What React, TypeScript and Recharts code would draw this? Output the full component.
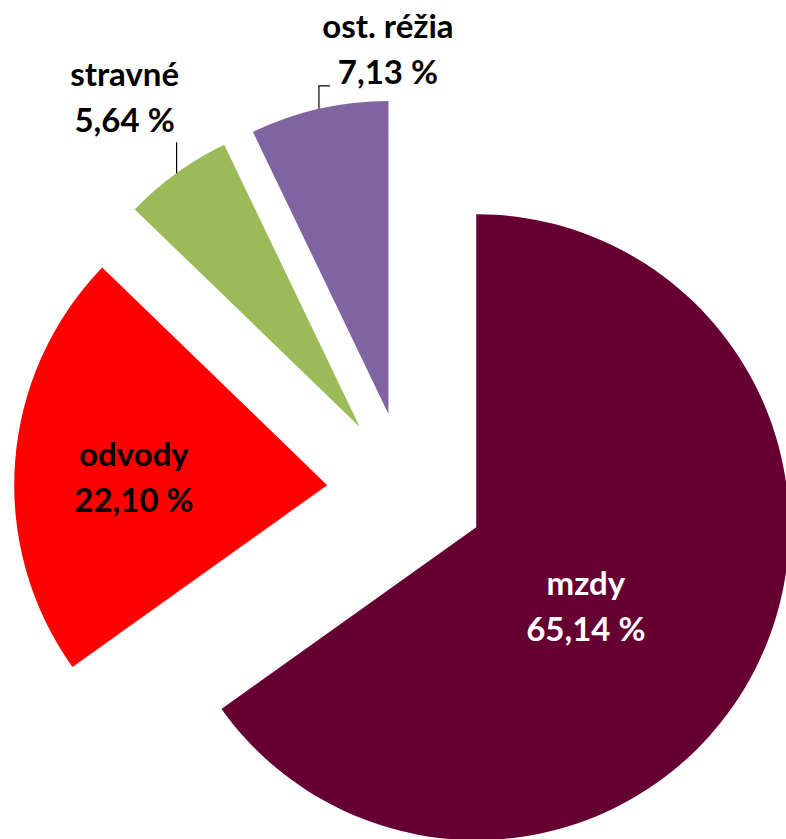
import { Cell, Pie, PieChart, Sector } from "recharts";

// cost structure shares
const categories = ["mzdy", "odvody", "stravné", "ost. réžia"];
const shares = [65.14, 22.1, 5.64, 7.13];
const shareLabels = ["65,14 %", "22,10 %", "5,64 %", "7,13 %"];

const COLORS = ["#660033", "#ff0000", "#9bbb59", "#8064a2"];
const TEXT_COLORS = ["#ffffff", "#000000", "#000000", "#000000"];

const RADIAN = Math.PI / 180;
const EXPLODE = 79;
const FONT = "Lato, 'Open Sans', sans-serif";
const FONT_SIZE = 33;
const LINE = 46;

const data = categories.map((name, i) => ({ name, value: shares[i] }));

function dirOf(angle: number) {
  return { x: Math.cos(-angle * RADIAN), y: Math.sin(-angle * RADIAN) };
}

function ExplodedSector(props: any) {
  const d = dirOf(props.midAngle);
  return <Sector {...props} cx={props.cx + d.x * EXPLODE} cy={props.cy + d.y * EXPLODE} />;
}

function TwoLines({ x, y, index }: { x: number; y: number; index: number }) {
  // y = first baseline
  return (
    <text
      x={x}
      y={y}
      textAnchor="middle"
      fill={TEXT_COLORS[index]}
      fontFamily={FONT}
      fontWeight={700}
      fontSize={FONT_SIZE}
    >
      <tspan x={x} dy={0}>
        {categories[index]}
      </tspan>
      <tspan x={x} dy={LINE}>
        {shareLabels[index]}
      </tspan>
    </text>
  );
}

// inside labels: [radius ratio, angle nudge]
const INSIDE = [
  [0.433, -8.75],
  [0.618, 1.9],
];

function renderLabel(props: any) {
  const { cx, cy, midAngle, outerRadius, index } = props;
  const d = dirOf(midAngle);
  const ax = cx + d.x * EXPLODE;
  const ay = cy + d.y * EXPLODE;

  if (index < 2) {
    const [ratio, nudge] = INSIDE[index];
    const ld = dirOf(midAngle + nudge);
    const x = ax + ld.x * outerRadius * ratio;
    const y = ay + ld.y * outerRadius * ratio;
    return <TwoLines key={index} x={x} y={y - 11.5} index={index} />;
  }

  const px = ax + d.x * outerRadius;
  const py = ay + d.y * outerRadius;
  if (index === 2) {
    return (
      <g key={index}>
        <path d={`M${px},${py}V${py - 31}`} stroke="#000" strokeWidth={1.2} fill="none" />
        <TwoLines x={px - 52} y={py - 87} index={index} />
      </g>
    );
  }
  return (
    <g key={index}>
      <path d={`M${px},${py}V${py - 23}H${px + 11}`} stroke="#000" strokeWidth={1.2} fill="none" />
      <TwoLines x={px + 69} y={py - 71} index={index} />
    </g>
  );
}

export default function App() {
  return (
    <div style={{ position: "absolute", left: 0, top: 0, width: 786, height: 839, overflow: "hidden", background: "#fff" }}>
      <PieChart width={786} height={839} margin={{ top: 0, right: 0, bottom: 0, left: 0 }}>
        <Pie
          data={data}
          dataKey="value"
          nameKey="name"
          cx={406}
          cy={491}
          outerRadius={313}
          startAngle={90}
          endAngle={-270}
          stroke="none"
          isAnimationActive={false}
          shape={ExplodedSector}
          label={renderLabel}
          labelLine={false}
        >
          {data.map((_, i) => (
            <Cell key={i} fill={COLORS[i]} />
          ))}
        </Pie>
      </PieChart>
    </div>
  );
}
